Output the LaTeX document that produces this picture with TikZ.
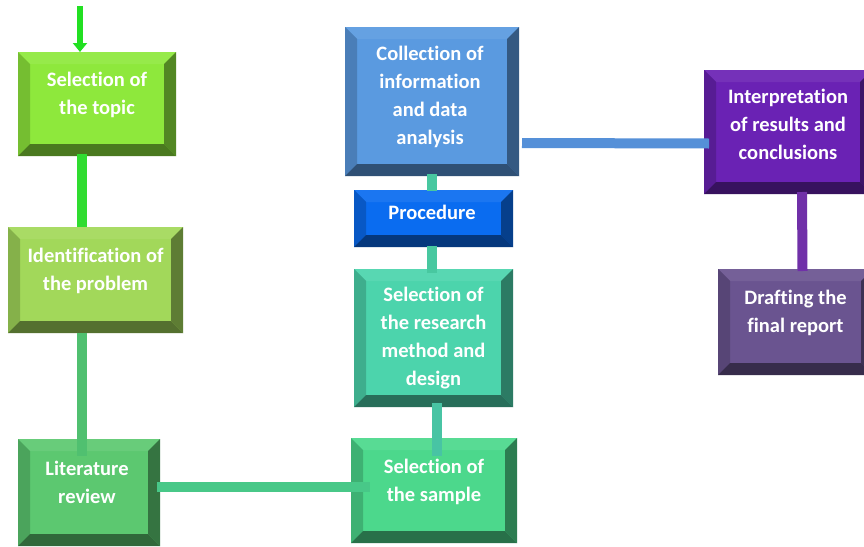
\documentclass[tikz,border=0pt]{standalone}
\usepackage{fontspec}
\setmainfont[Ligatures=NoCommon]{Carlito}
\usetikzlibrary{arrows.meta}
\definecolor{cTopic}{HTML}{8EE83C}
\definecolor{cIdent}{HTML}{A2D85A}
\definecolor{cLit}{HTML}{5CC870}
\definecolor{cSample}{HTML}{4CD88C}
\definecolor{cMethod}{HTML}{4CD4AC}
\definecolor{cProc}{HTML}{0A6CF0}
\definecolor{cColl}{HTML}{5A9AE0}
\definecolor{cInterp}{HTML}{6A22B4}
\definecolor{cDraft}{HTML}{6A5490}
\definecolor{lArrow}{HTML}{22E022}
\definecolor{lTopic}{HTML}{30DC30}
\definecolor{lIdent}{HTML}{50C070}
\definecolor{lLit}{HTML}{48C888}
\definecolor{lSample}{HTML}{48C4A4}
\definecolor{lMethod}{HTML}{48C8A0}
\definecolor{lColl}{HTML}{5590D8}
\definecolor{lInterp}{HTML}{7030A8}
\tikzset{
  boxbody/.style={inner sep=0pt, outer sep=0pt, draw=none},
  boxtext/.style={font=\bfseries\fontsize{20.5}{28}\selectfont, text=white, align=center, inner sep=0pt},
  link/.style={line width=10pt},
  arrowlink/.style={line width=6.5pt, -{Triangle[width=14pt,length=9pt]}},
}
\newcommand{\bevbox}[6]{%
  \node[boxbody, fill=#6, minimum width={(#4-#2)*1pt}, minimum height={(#5-#3)*1pt}] (#1) at ({(#2+#4)/2},{(#3+#5)/2}) {};
  \fill[#6!93!white] (#2,#3) -- (#4,#3) -- ({#4-12},{#3+12}) -- ({#2+12},{#3+12}) -- cycle;
  \fill[#6!82!black] (#2,#3) -- ({#2+12},{#3+12}) -- ({#2+12},{#5-12}) -- (#2,#5) -- cycle;
  \fill[#6!58!black] (#4,#3) -- ({#4-12},{#3+12}) -- ({#4-12},{#5-12}) -- (#4,#5) -- cycle;
  \fill[#6!52!black] (#2,#5) -- ({#2+12},{#5-12}) -- ({#4-12},{#5-12}) -- (#4,#5) -- cycle;
}
\begin{document}
\begin{tikzpicture}[x=1pt,y=-1pt]
\useasboundingbox (0,0) rectangle (864,546);
\clip (0,0) rectangle (864,546);
\fill[white] (0,0) rectangle (864,546);

\bevbox{topic}{18}{52}{176}{156}{cTopic}
\bevbox{ident}{8}{227}{183}{333}{cIdent}
\bevbox{lit}{18}{439}{160}{546}{cLit}
\bevbox{sample}{351}{438}{517}{543}{cSample}
\bevbox{method}{354}{269}{513}{407}{cMethod}
\bevbox{proc}{354}{190}{513}{247}{cProc}
\bevbox{coll}{345}{27}{519}{176}{cColl}
\bevbox{interp}{704}{70}{872}{194}{cInterp}
\bevbox{draft}{718}{269}{873}{375}{cDraft}

\node[boxtext] (ttopic) at (97,95) {Selection of\\the topic};
\node[boxtext] (tident) at (95.5,271) {Identification of\\the problem};
\node[boxtext] (tlit) at (87,482) {Literature\\review};
\node[boxtext] (tsample) at (434,482) {Selection of\\the sample};
\node[boxtext] (tmethod) at (433.5,338) {Selection of\\the research\\method and\\design};
\node[boxtext] (tproc) at (432,212) {Procedure};
\node[boxtext] (tcoll) at (430,97) {Collection of\\information\\and data\\analysis};
\node[boxtext] (tinterp) at (788,124) {Interpretation\\of results and\\conclusions};
\node[boxtext] (tdraft) at (795.5,313) {Drafting the\\final report};

\coordinate (start) at (80,6);
\draw[arrowlink, lArrow] (start) -- (start |- topic.north);
\draw[link, lTopic] ([xshift=-15pt,yshift=2pt]topic.south) -- ([xshift=-13.5pt]ident.north);
\draw[link, lIdent] ([xshift=-13.5pt]ident.south) -- ([xshift=-7pt,yshift=-17pt]lit.north);
\draw[link, lLit] ([xshift=-3pt,yshift=5.5pt]lit.east) -- ([xshift=19pt,yshift=3.5pt]sample.west);
\draw[link, lSample] ([xshift=2.5pt,yshift=-18pt]sample.north) -- ([xshift=3pt,yshift=4pt]method.south);
\draw[link, lMethod] ([xshift=-1.5pt,yshift=-4pt]method.north) -- ([xshift=-1.5pt,yshift=1pt]proc.south);
\draw[link, lMethod] ([xshift=-2pt,yshift=-1pt]proc.north) -- ([xshift=-0.5pt,yshift=2pt]coll.south);
\draw[link, lColl] ([xshift=3pt,yshift=-41.5pt]coll.east) -- ([xshift=5pt,yshift=-11.5pt]interp.west);
\draw[link, lInterp] ([xshift=14pt,yshift=2pt]interp.south) -- ([xshift=7pt,yshift=-2pt]draft.north);
\end{tikzpicture}
\end{document}
